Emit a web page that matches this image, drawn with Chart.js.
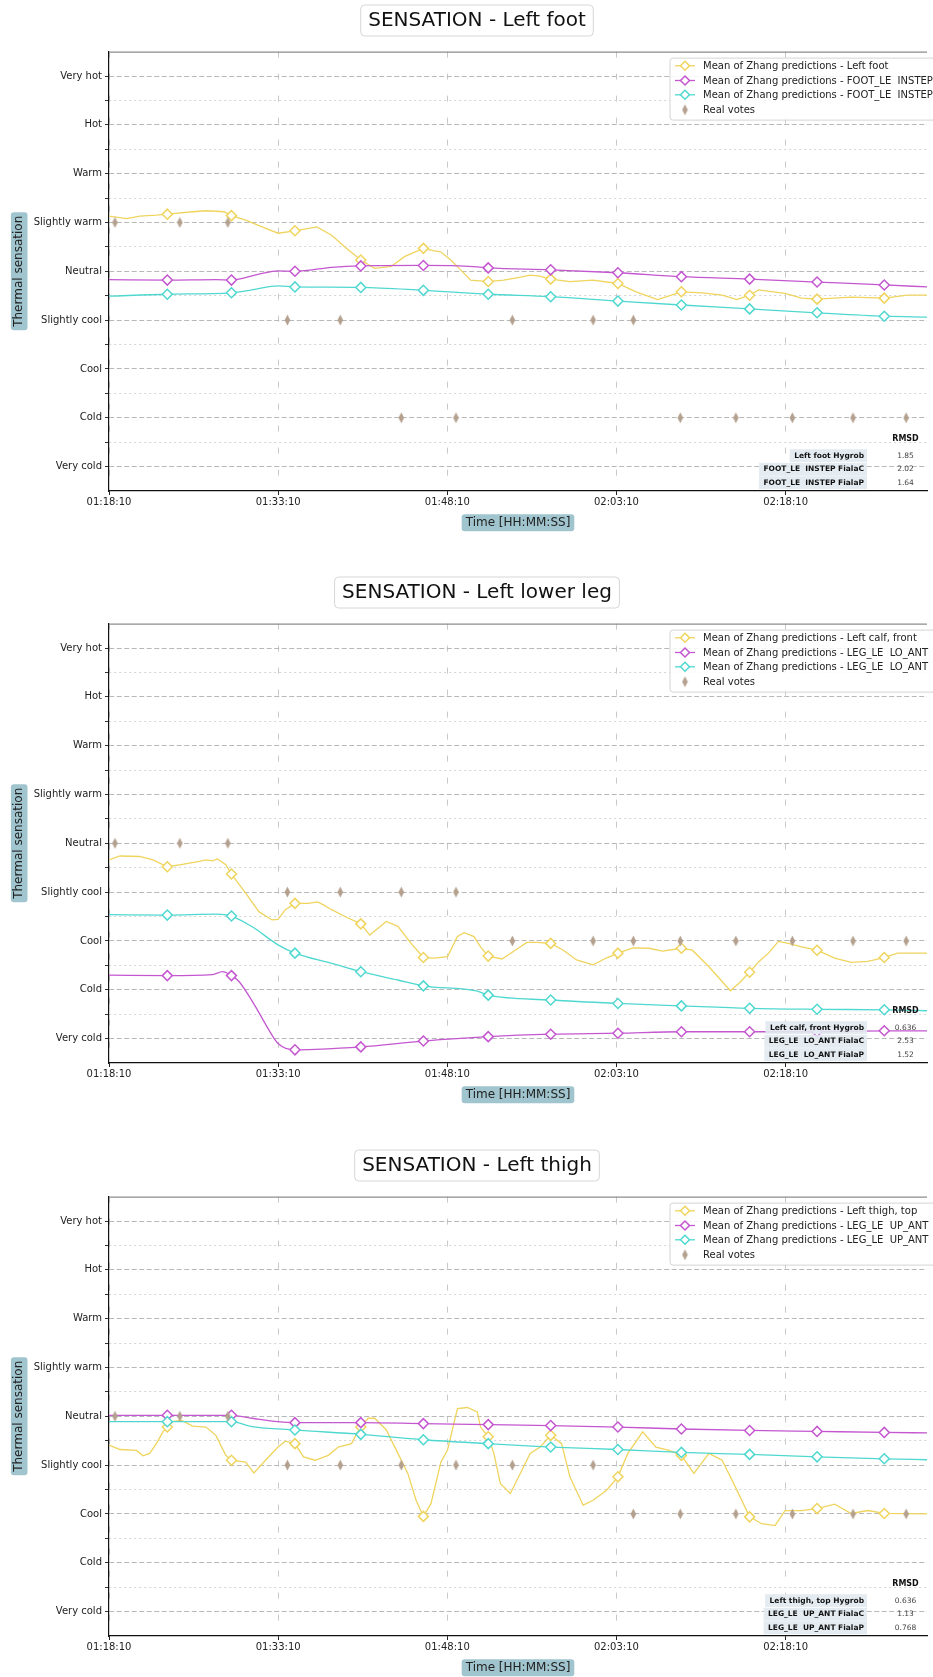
<!DOCTYPE html>
<html><head><meta charset="utf-8">
<script src="https://cdn.jsdelivr.net/npm/chart.js@4/dist/chart.umd.min.js"></script>
<style>
html,body{margin:0;padding:0;background:#fff;overflow:hidden;width:933px;height:1677px;position:relative;}
canvas{position:absolute;left:0;}
</style></head><body>
<canvas id="c1" width="933" height="572" style="top:0px"></canvas>
<canvas id="c2" width="933" height="572" style="top:572px"></canvas>
<canvas id="c3" width="933" height="572" style="top:1145px"></canvas>
<script>
// ---------- axis ticks ----------
const xTickValues = [0, 15, 30, 45, 60];            // minutes after 01:18:10
const xTickLabels = ['01:18:10', '01:33:10', '01:48:10', '02:03:10', '02:18:10'];
const yTickLabels = ['Very cold', 'Cold', 'Cool', 'Slightly cool', 'Neutral', 'Slightly warm', 'Warm', 'Hot', 'Very hot'];
const markTimes = [5.17, 10.86, 16.49, 22.33, 27.88, 33.63, 39.17, 45.13, 50.76, 56.81, 62.79, 68.75];
const voteTimes = [0.53, 6.28, 10.54, 15.82, 20.51, 25.92, 30.77, 35.77, 42.93, 46.5, 50.66, 55.59, 60.6, 65.98, 70.69];

// ---------- Left foot ----------
const footTitle = 'SENSATION - Left foot';
const footLegend = ['Mean of Zhang predictions - Left foot', 'Mean of Zhang predictions - FOOT_LE  INSTEP', 'Mean of Zhang predictions - FOOT_LE  INSTEP', 'Real votes'];
const footVotes = [1, 1, 1, -1, -1, -3, -3, -1, -1, -1, -3, -3, -3, -3, -3];
const footHygrob = [[0,1.13],[1.56,1.08],[2.73,1.13],[4.2,1.15],[5.17,1.17],[7.42,1.22],[8.6,1.24],[9.48,1.23],[10.2,1.22],[10.86,1.14],[12.12,1.05],[13.58,0.91],[14.99,0.78],[16.49,0.83],[18.43,0.91],[19.75,0.74],[20.92,0.5],[22.33,0.23],[23.56,0.06],[25.03,0.10],[26.2,0.30],[27.88,0.47],[28.85,0.42],[29.4,0.40],[30.31,0.23],[31.19,0.03],[32.07,-0.18],[33.63,-0.21],[35.01,-0.18],[36.5,-0.12],[37.35,-0.08],[38.2,-0.10],[39.17,-0.16],[40.87,-0.21],[42.93,-0.18],[45.13,-0.25],[46.74,-0.42],[48.65,-0.58],[50.76,-0.42],[52.61,-0.44],[54.37,-0.49],[55.69,-0.58],[56.81,-0.49],[57.6,-0.38],[59.95,-0.45],[61.42,-0.55],[62.79,-0.57],[65.82,-0.53],[68.75,-0.55],[70.8,-0.49],[72.54,-0.49]];
const footFialaC = [[0,-0.17],[5.17,-0.18],[9.48,-0.17],[10.86,-0.18],[13.29,-0.06],[14.99,0.01],[16.49,0.0],[19.75,0.08],[22.33,0.11],[27.88,0.12],[32.66,0.09],[33.63,0.07],[39.17,0.03],[45.13,-0.03],[50.76,-0.11],[56.81,-0.16],[62.79,-0.22],[68.75,-0.28],[72.54,-0.32]];
const footFialaP = [[0,-0.51],[5.17,-0.47],[10.86,-0.44],[12.7,-0.38],[14.99,-0.30],[16.49,-0.32],[22.33,-0.33],[27.88,-0.39],[33.63,-0.47],[39.17,-0.52],[45.13,-0.61],[50.76,-0.69],[56.81,-0.77],[62.79,-0.85],[68.75,-0.92],[72.54,-0.94]];
const footRmsdLabels = ['Left foot Hygrob', 'FOOT_LE  INSTEP FialaC', 'FOOT_LE  INSTEP FialaP'];
const footRmsdValues = ['1.85', '2.02', '1.64'];

// ---------- Left lower leg ----------
const calfTitle = 'SENSATION - Left lower leg';
const calfLegend = ['Mean of Zhang predictions - Left calf, front', 'Mean of Zhang predictions - LEG_LE  LO_ANT', 'Mean of Zhang predictions - LEG_LE  LO_ANT', 'Real votes'];
const calfVotes = [0, 0, 0, -1, -1, -1, -1, -2, -2, -2, -2, -2, -2, -2, -2];
const calfHygrob = [[0,-0.34],[0.97,-0.26],[2.73,-0.27],[3.9,-0.34],[5.17,-0.48],[6.25,-0.44],[8.01,-0.37],[8.6,-0.34],[9.2,-0.36],[9.62,-0.32],[10.36,-0.44],[10.86,-0.63],[12.12,-1.02],[13.29,-1.40],[14.46,-1.57],[14.99,-1.56],[15.64,-1.36],[16.49,-1.23],[17.69,-1.23],[18.5,-1.20],[19.01,-1.26],[19.75,-1.36],[20.92,-1.50],[22.33,-1.65],[23.12,-1.88],[24.59,-1.60],[25.62,-1.70],[26.79,-2.05],[27.88,-2.34],[28.85,-2.35],[30.02,-2.32],[30.9,-1.91],[31.49,-1.83],[32.37,-1.91],[32.95,-2.12],[33.63,-2.31],[34.86,-2.37],[35.89,-2.21],[37.06,-2.03],[37.94,-2.03],[39.17,-2.05],[40.29,-2.19],[41.46,-2.39],[42.93,-2.49],[44.1,-2.35],[45.13,-2.25],[46.45,-2.14],[47.91,-2.15],[49.09,-2.21],[50.76,-2.15],[51.73,-2.19],[53.2,-2.53],[54.37,-2.83],[55.11,-3.02],[55.84,-2.87],[56.81,-2.64],[57.6,-2.43],[58.48,-2.25],[59.36,-2.01],[60.24,-2.05],[61.42,-2.12],[62.79,-2.19],[64.35,-2.35],[65.82,-2.44],[67.28,-2.42],[68.75,-2.34],[69.92,-2.25],[72.54,-2.25]];
const calfFialaC = [[0,-2.70],[5.17,-2.71],[9.18,-2.69],[10.06,-2.63],[10.86,-2.71],[11.53,-2.83],[13.0,-3.35],[14.17,-3.82],[14.99,-4.10],[16.49,-4.23],[18.28,-4.22],[22.33,-4.17],[27.88,-4.05],[33.63,-3.96],[39.17,-3.91],[45.13,-3.89],[50.76,-3.86],[56.81,-3.86],[62.79,-3.86],[68.75,-3.84],[72.54,-3.84]];
const calfFialaP = [[0,-1.46],[5.17,-1.47],[9.48,-1.45],[10.86,-1.49],[12.7,-1.71],[14.99,-2.08],[16.49,-2.25],[19.75,-2.46],[22.33,-2.63],[25.62,-2.80],[27.88,-2.92],[32.66,-3.03],[33.63,-3.11],[39.17,-3.21],[45.13,-3.28],[50.76,-3.33],[56.81,-3.38],[62.79,-3.40],[68.75,-3.41],[72.54,-3.43]];
const calfRmsdLabels = ['Left calf, front Hygrob', 'LEG_LE  LO_ANT FialaC', 'LEG_LE  LO_ANT FialaP'];
const calfRmsdValues = ['0.636', '2.53', '1.52'];

// ---------- Left thigh ----------
const thighTitle = 'SENSATION - Left thigh';
const thighLegend = ['Mean of Zhang predictions - Left thigh, top', 'Mean of Zhang predictions - LEG_LE  UP_ANT', 'Mean of Zhang predictions - LEG_LE  UP_ANT', 'Real votes'];
const thighVotes = [0, 0, 0, -1, -1, -1, -1, -1, -1, -2, -2, -2, -2, -2, -2];
const thighHygrob = [[0,-0.59],[0.97,-0.68],[2.44,-0.70],[3.02,-0.81],[3.61,-0.76],[4.2,-0.56],[4.78,-0.32],[5.17,-0.22],[5.66,-0.11],[6.4,-0.08],[7.42,-0.20],[8.6,-0.22],[9.48,-0.39],[10.36,-0.80],[10.86,-0.90],[12.12,-0.94],[12.85,-1.16],[13.88,-0.90],[14.99,-0.63],[15.64,-0.51],[16.49,-0.56],[17.25,-0.83],[18.28,-0.90],[19.45,-0.80],[20.33,-0.63],[21.51,-0.56],[21.95,-0.36],[22.33,-0.22],[22.98,-0.04],[23.56,-0.04],[24.59,-0.28],[25.62,-0.76],[26.5,-1.17],[27.23,-1.72],[27.88,-2.05],[28.55,-1.79],[29.43,-0.94],[30.02,-0.69],[30.9,0.16],[31.78,0.18],[32.66,0.09],[32.95,-0.22],[33.63,-0.42],[34.13,-0.76],[34.71,-1.38],[35.59,-1.58],[36.47,-1.17],[37.35,-0.76],[38.23,-0.63],[39.17,-0.39],[40.14,-0.56],[40.87,-1.24],[42.05,-1.82],[42.93,-1.72],[44.1,-1.52],[45.13,-1.24],[46.01,-0.76],[47.33,-0.32],[48.5,-0.63],[49.67,-0.70],[50.76,-0.80],[51.87,-1.17],[53.2,-0.76],[54.37,-0.90],[55.55,-1.45],[56.81,-2.06],[57.89,-2.20],[59.07,-2.24],[59.95,-1.93],[61.42,-1.93],[62.79,-1.89],[64.35,-1.80],[65.82,-1.99],[67.28,-1.93],[68.75,-1.99],[72.54,-2.00]];
const thighFialaC = [[0,0.02],[5.17,0.02],[10.86,0.02],[12.7,-0.04],[14.99,-0.11],[16.49,-0.13],[22.33,-0.13],[27.88,-0.15],[33.63,-0.17],[39.17,-0.19],[45.13,-0.22],[50.76,-0.26],[56.81,-0.29],[62.79,-0.31],[68.75,-0.33],[72.54,-0.34]];
const thighFialaP = [[0,-0.11],[5.17,-0.11],[10.86,-0.11],[12.7,-0.21],[16.49,-0.28],[22.33,-0.37],[27.88,-0.48],[33.63,-0.56],[39.17,-0.63],[45.13,-0.68],[50.76,-0.74],[56.81,-0.78],[62.79,-0.83],[68.75,-0.87],[72.54,-0.89]];
const thighRmsdLabels = ['Left thigh, top Hygrob', 'LEG_LE  UP_ANT FialaC', 'LEG_LE  UP_ANT FialaP'];
const thighRmsdValues = ['0.636', '1.13', '0.768'];

// ---------- styling ----------
const FAMILY = "'DejaVu Sans', sans-serif";
const C_HYG = '#efd45e', C_FC = '#c457d0', C_FP = '#4fd8d0', C_VOTE = '#b4a08e';
const LABEL_BOX = 'rgb(160,197,206)';
Chart.defaults.font.family = FAMILY;
Chart.defaults.color = '#222';

function thinDiamond(color) {
  const c = document.createElement('canvas'); c.width = 7; c.height = 12;
  const g = c.getContext('2d'); g.fillStyle = color;
  g.beginPath(); g.moveTo(3.5, 0.5); g.lineTo(6.3, 6); g.lineTo(3.5, 11.5); g.lineTo(0.7, 6); g.closePath(); g.fill();
  return c;
}
const voteMarker = thinDiamond(C_VOTE);
const isMark = t => markTimes.some(m => Math.abs(m - t) < 1e-6);
const toXY = arr => arr.map(p => ({x: p[0], y: p[1]}));

function lineDS(label, pts, color, order, smooth) {
  const r = ctx => (ctx.raw && isMark(ctx.raw.x)) ? 5 : 0;
  return {
    type: 'line', label, data: toXY(pts), order,
    borderColor: color, borderWidth: 1.3, backgroundColor: '#fff', fill: false,
    tension: 0, cubicInterpolationMode: smooth ? 'monotone' : 'default',
    pointStyle: 'rectRot', pointBackgroundColor: '#fff', pointBorderColor: color, pointBorderWidth: 1.5,
    pointRadius: r, pointHoverRadius: r
  };
}
function voteDS(label, votes) {
  return { type: 'line', label, showLine: false, order: 0,
    data: voteTimes.map((t, i) => ({x: t, y: votes[i]})),
    pointStyle: voteMarker, pointRadius: 5, pointHoverRadius: 5,
    borderColor: C_VOTE, backgroundColor: C_VOTE };
}

function rr(ctx, x, y, w, h, r) {
  ctx.beginPath();
  ctx.moveTo(x + r, y); ctx.lineTo(x + w - r, y); ctx.quadraticCurveTo(x + w, y, x + w, y + r);
  ctx.lineTo(x + w, y + h - r); ctx.quadraticCurveTo(x + w, y + h, x + w - r, y + h);
  ctx.lineTo(x + r, y + h); ctx.quadraticCurveTo(x, y + h, x, y + h - r);
  ctx.lineTo(x, y + r); ctx.quadraticCurveTo(x, y, x + r, y); ctx.closePath();
}

const TITLE_CX = 477;
const decor = {
  id: 'decor',
  afterLayout(chart) {
    const tb = chart.titleBlock;
    if (tb) tb.left = 2 * TITLE_CX - tb.right;
  },
  beforeDraw(chart) {
    const ctx = chart.ctx, o = chart.options;
    ctx.save();
    // title box
    ctx.font = '20px ' + FAMILY;
    const tw = ctx.measureText(o.plugins.title.text).width;
    rr(ctx, TITLE_CX - tw / 2 - 7.5, 5, tw + 15, 31, 4);
    ctx.fillStyle = '#fff'; ctx.fill(); ctx.strokeStyle = '#d6d6d6'; ctx.lineWidth = 1; ctx.stroke();
    // y title box
    ctx.font = '12px ' + FAMILY;
    const ys = chart.scales.y;
    const yw = ctx.measureText(o.scales.y.title.text).width;
    const ycx = ys.left + 7.2 + 12, ycy = (ys.top + ys.bottom) / 2;
    rr(ctx, ycx - 8.3, ycy - yw / 2 - 3.5, 16.6, yw + 7, 3);
    ctx.fillStyle = LABEL_BOX; ctx.fill();
    // x title box
    const xs = chart.scales.x;
    const xw = ctx.measureText(o.scales.x.title.text).width;
    const xcx = (xs.left + xs.right) / 2, xcy = xs.bottom - 7.2 - 42;
    rr(ctx, xcx - xw / 2 - 4, xcy - 8.5, xw + 8, 17, 3);
    ctx.fillStyle = LABEL_BOX; ctx.fill();
    ctx.restore();
  },
  afterDraw(chart) {
    const ctx = chart.ctx, a = chart.chartArea, info = INFO[chart.canvas.id];
    ctx.save();
    // top spine
    ctx.strokeStyle = '#8c8c8c'; ctx.lineWidth = 1.2;
    ctx.beginPath(); ctx.moveTo(a.left, a.top + 0.5); ctx.lineTo(a.right, a.top + 0.5); ctx.stroke();
    // legend
    const L = info.legendLeft, T = a.top + 6.5;
    rr(ctx, L, T, 420, 62, 3);
    ctx.fillStyle = 'rgba(255,255,255,0.85)'; ctx.fill();
    ctx.strokeStyle = '#d4d4d4'; ctx.lineWidth = 1; ctx.stroke();
    const rows = [7.7, 22.4, 36.7, 51.7];
    ctx.font = '10px ' + FAMILY; ctx.textBaseline = 'middle'; ctx.textAlign = 'left';
    chart.data.datasets.forEach((ds, i) => {
      const y = T + rows[i];
      if (ds.showLine === false) {
        ctx.drawImage(voteMarker, L + 15 - 3.5, y - 6);
      } else {
        ctx.strokeStyle = ds.borderColor; ctx.lineWidth = 1.3;
        ctx.beginPath(); ctx.moveTo(L + 5, y); ctx.lineTo(L + 25, y); ctx.stroke();
        ctx.beginPath(); ctx.moveTo(L + 15, y - 4.5); ctx.lineTo(L + 19.5, y); ctx.lineTo(L + 15, y + 4.5); ctx.lineTo(L + 10.5, y); ctx.closePath();
        ctx.fillStyle = '#fff'; ctx.fill(); ctx.lineWidth = 1.5; ctx.stroke();
      }
      ctx.fillStyle = '#222';
      ctx.fillText(ds.label, L + 33, y + 0.5);
    });
    // RMSD table
    const b = a.bottom;
    ctx.textAlign = 'center'; ctx.fillStyle = '#111';
    ctx.font = 'bold 8px ' + FAMILY;
    ctx.fillText('RMSD', 905.5, b - 51.6);
    const ry = [b - 35.4, b - 21.7, b - 8.3];
    info.rmsdLabels.forEach((lab, i) => {
      ctx.font = 'bold 7.5px ' + FAMILY;
      const w = ctx.measureText(lab).width;
      ctx.fillStyle = 'rgba(226,234,239,0.9)';
      ctx.fillRect(864 - w - 4.5, ry[i] - 6.5, w + 7.5, 13);
      ctx.fillStyle = '#111'; ctx.textAlign = 'right';
      ctx.fillText(lab, 864, ry[i]);
      ctx.font = '7.5px ' + FAMILY; ctx.fillStyle = '#444'; ctx.textAlign = 'center';
      ctx.fillText(info.rmsdValues[i], 905.5, ry[i]);
    });
    ctx.restore();
  }
};

const INFO = {
  c1: { legendLeft: 670, rmsdLabels: footRmsdLabels, rmsdValues: footRmsdValues },
  c2: { legendLeft: 670, rmsdLabels: calfRmsdLabels, rmsdValues: calfRmsdValues },
  c3: { legendLeft: 670, rmsdLabels: thighRmsdLabels, rmsdValues: thighRmsdValues }
};

function makeChart(id, title, legend, hyg, fc, fp, votes) {
  const isInt = c => c.tick && Math.abs(c.tick.value - Math.round(c.tick.value)) < 1e-6;
  new Chart(document.getElementById(id), {
    type: 'line',
    data: { datasets: [
      lineDS(legend[0], hyg, C_HYG, 3, false),
      lineDS(legend[1], fc, C_FC, 2, true),
      lineDS(legend[2], fp, C_FP, 1, true),
      voteDS(legend[3], votes)
    ]},
    options: {
      responsive: false, animation: false, devicePixelRatio: 1, events: [],
      layout: { padding: { top: 0, left: 0, right: 0, bottom: 0 } },
      plugins: {
        legend: { display: false }, tooltip: { enabled: false },
        title: { display: true, text: title, color: '#111', font: { size: 20, weight: 'normal' }, padding: { top: 8.5, bottom: 19.1 } }
      },
      scales: {
        x: {
          type: 'linear', min: 0, max: 72.54,
          afterBuildTicks: s => { s.ticks = xTickValues.map(v => ({ value: v })); },
          afterFit: s => { s.height = 81; },
          ticks: { autoSkip: false, maxRotation: 0, padding: 1, font: { size: 10 }, color: '#222',
                   callback: (v, i) => xTickLabels[i] },
          grid: { color: '#c8c8c8', lineWidth: 1, tickLength: 4, tickColor: '#222', tickWidth: 1 },
          border: { display: true, color: '#111', width: 1.2, dash: [6, 16] },
          title: { display: true, text: 'Time [HH:MM:SS]', color: '#222', font: { size: 12 }, padding: { top: 0, bottom: 42 } }
        },
        y: {
          type: 'linear', min: -4.5, max: 4.5,
          afterFit: s => { s.width = 109; },
          ticks: { stepSize: 0.5, autoSkip: false, padding: 3, font: { size: 10 }, color: '#222',
                   callback: v => Number.isInteger(v) ? yTickLabels[v + 4] : '' },
          grid: {
            color: c => (!c.tick || Math.abs(Math.abs(c.tick.value) - 4.5) < 1e-6) ? 'rgba(0,0,0,0)' : (isInt(c) ? '#b8b8b8' : '#d4d4d4'),
            lineWidth: 1, tickLength: 4,
            tickColor: c => (c.tick && Math.abs(Math.abs(c.tick.value) - 4.5) < 1e-6) ? 'rgba(0,0,0,0)' : '#333', tickWidth: 1
          },
          border: { display: true, color: '#111', width: 1.2, dash: c => isInt(c) ? [5, 2.5] : [2, 3] },
          title: { display: true, text: 'Thermal sensation', color: '#222', font: { size: 12 }, padding: { top: 12, bottom: 0 } }
        }
      }
    },
    plugins: [decor]
  });
}

makeChart('c1', footTitle, footLegend, footHygrob, footFialaC, footFialaP, footVotes);
makeChart('c2', calfTitle, calfLegend, calfHygrob, calfFialaC, calfFialaP, calfVotes);
makeChart('c3', thighTitle, thighLegend, thighHygrob, thighFialaC, thighFialaP, thighVotes);
</script>
</body></html>
